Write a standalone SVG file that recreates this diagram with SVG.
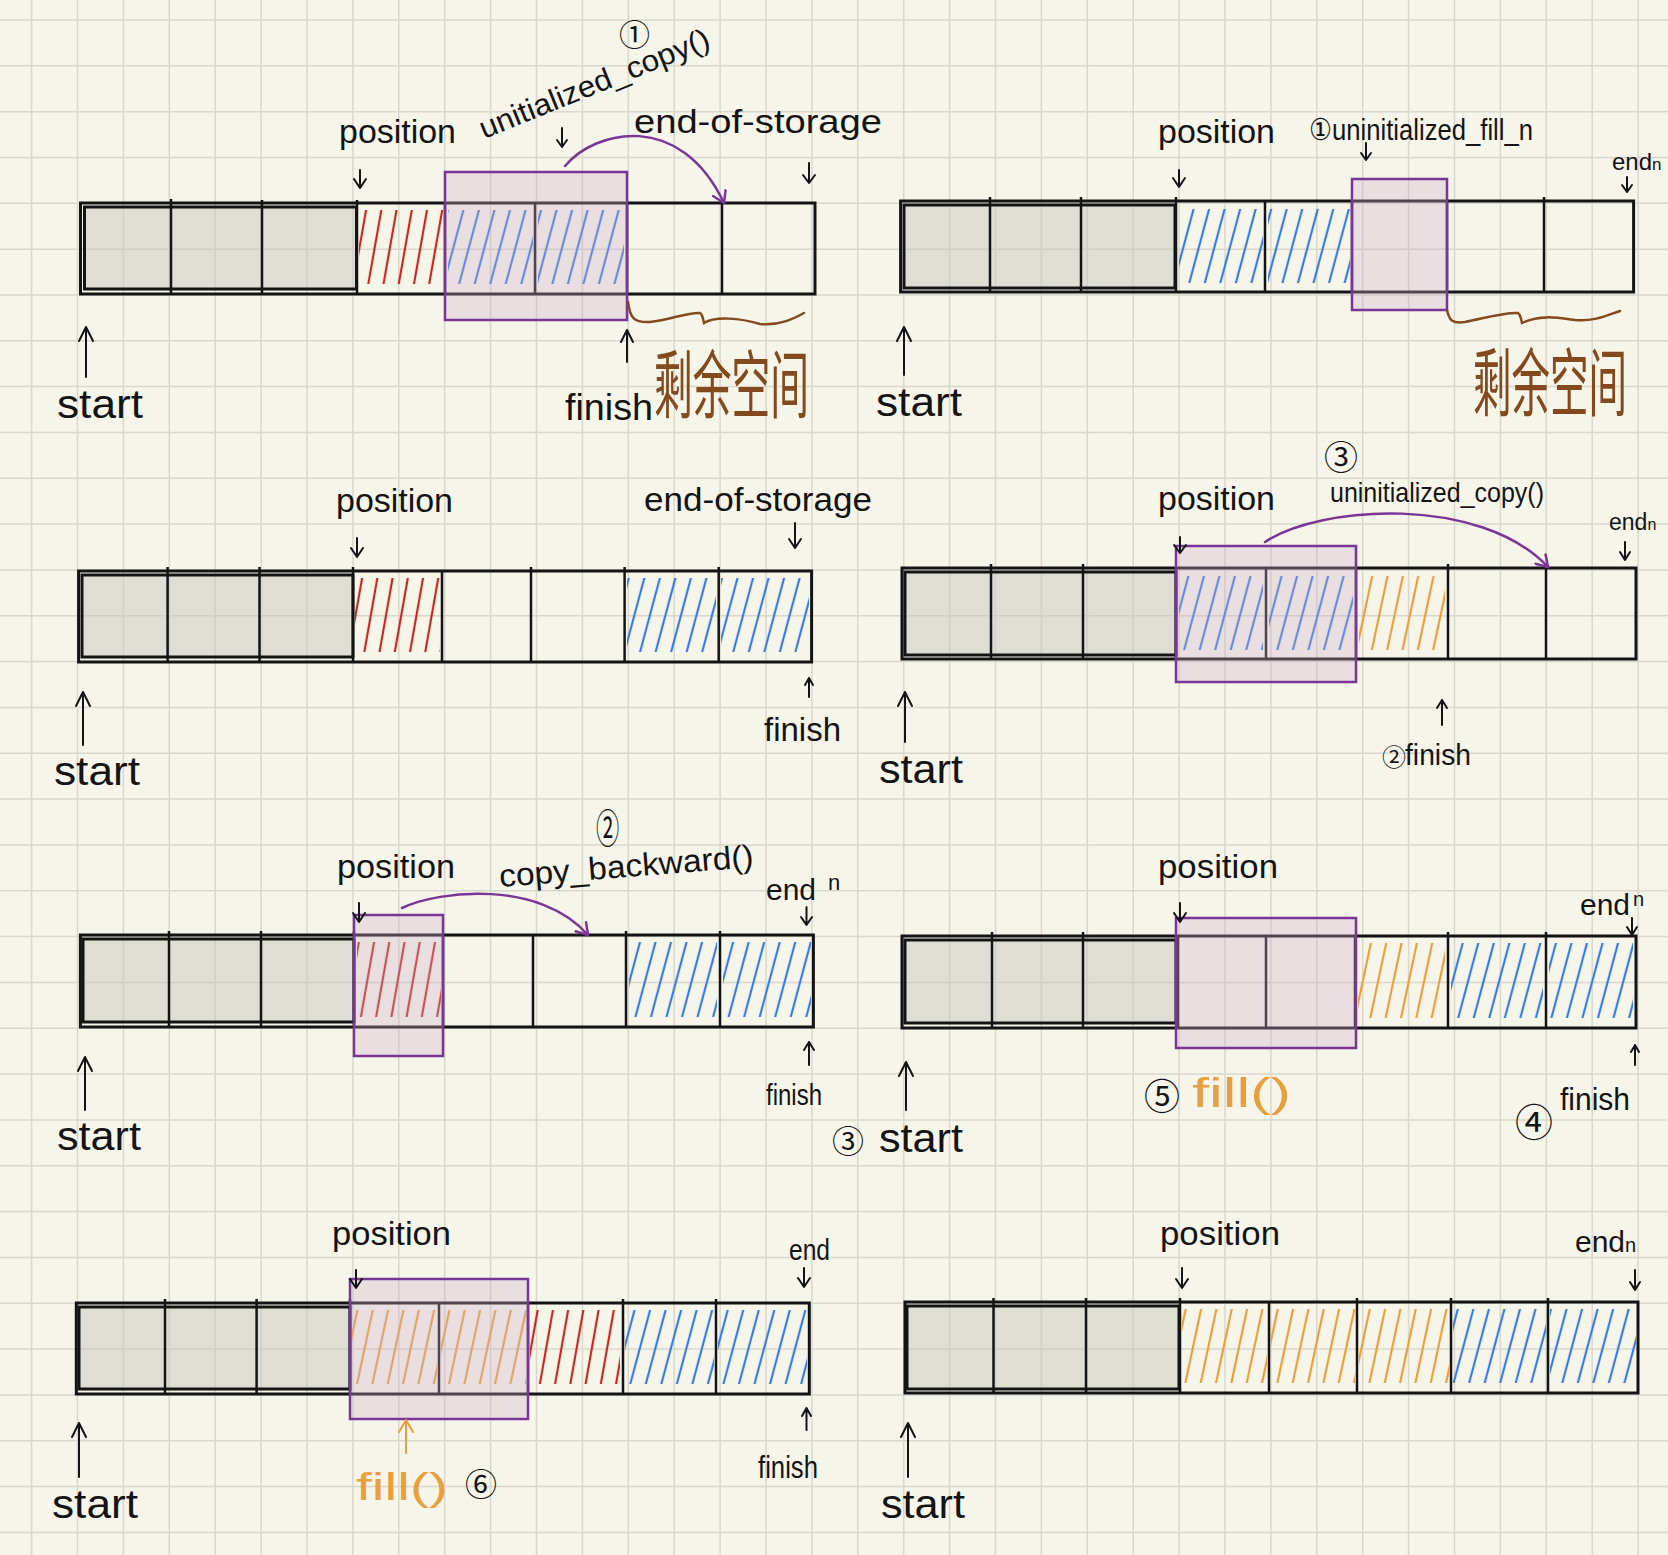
<svg xmlns="http://www.w3.org/2000/svg" width="1668" height="1555" viewBox="0 0 1668 1555">
<style>
.t{font-family:"Liberation Sans",Arial,sans-serif;fill:#141414}
.o{font-family:"Liberation Sans",Arial,sans-serif;fill:#e8a03e}
.c{font-family:"Noto Sans CJK SC",sans-serif;fill:#141414}
.cn{font-family:"Noto Sans CJK SC",sans-serif;fill:#84491c}
.arr{stroke:#141414;stroke-width:2;fill:none;stroke-linecap:round;stroke-linejoin:round}
.oarr{stroke:#e8a03e;stroke-width:2;fill:none;stroke-linecap:round;stroke-linejoin:round}
.bar{fill:none;stroke:#141414;stroke-width:3}
.grey{fill:#c8c8c0;fill-opacity:.5;stroke:#141414;stroke-width:3}
.div{stroke:#141414;stroke-width:2.5}
.pbox{fill:#cdaecb;fill-opacity:.32;stroke:#7a3596;stroke-width:2.5}
.brace{fill:none;stroke:#84491c;stroke-width:2.5;stroke-linecap:round}
.conn{fill:none;stroke:#7a3596;stroke-width:2.5;stroke-linecap:round}
</style>
<defs>
<pattern id="hr" patternUnits="userSpaceOnUse" width="15" height="300" patternTransform="rotate(10)"><line x1="7" y1="0" x2="7" y2="300" stroke="#c42a20" stroke-width="2.2"/></pattern>
<pattern id="hb" patternUnits="userSpaceOnUse" width="15" height="300" patternTransform="rotate(15)"><line x1="7" y1="0" x2="7" y2="300" stroke="#3a7de2" stroke-width="2.2"/></pattern>
<pattern id="ho" patternUnits="userSpaceOnUse" width="15" height="300" patternTransform="rotate(12)"><line x1="7" y1="0" x2="7" y2="300" stroke="#e8a03e" stroke-width="2.2"/></pattern>
<marker id="ah" viewBox="-12 -8 14 16" markerWidth="14" markerHeight="16" refX="0" refY="0" orient="auto" markerUnits="userSpaceOnUse"><path d="M-11,-7 L0,0 L-11,7" fill="none" stroke="#7a3596" stroke-width="2.5" stroke-linecap="round" stroke-linejoin="round"/></marker>
</defs>
<rect width="1668" height="1555" fill="#f6f5ea"/>
<path id="grid" fill="none" stroke="#d9d8cc" stroke-width="1.5" d="M31.6 0V1555M77.5 0V1555M123.4 0V1555M169.3 0V1555M215.2 0V1555M261.1 0V1555M307 0V1555M352.9 0V1555M398.8 0V1555M444.7 0V1555M490.6 0V1555M536.5 0V1555M582.4 0V1555M628.3 0V1555M674.2 0V1555M720.1 0V1555M766 0V1555M811.9 0V1555M857.8 0V1555M903.7 0V1555M949.6 0V1555M995.5 0V1555M1041.4 0V1555M1087.3 0V1555M1133.2 0V1555M1179.1 0V1555M1225 0V1555M1270.9 0V1555M1316.8 0V1555M1362.7 0V1555M1408.6 0V1555M1454.5 0V1555M1500.4 0V1555M1546.3 0V1555M1592.2 0V1555M1638.1 0V1555M0 20H1668M0 65.8H1668M0 111.7H1668M0 157.5H1668M0 203.3H1668M0 249.2H1668M0 295H1668M0 340.8H1668M0 386.6H1668M0 432.5H1668M0 478.3H1668M0 524.1H1668M0 570H1668M0 615.8H1668M0 661.6H1668M0 707.5H1668M0 753.3H1668M0 799.1H1668M0 845H1668M0 890.8H1668M0 936.6H1668M0 982.4H1668M0 1028.3H1668M0 1074.1H1668M0 1120H1668M0 1165.8H1668M0 1211.6H1668M0 1257.4H1668M0 1303.2H1668M0 1349.1H1668M0 1394.9H1668M0 1440.7H1668M0 1486.6H1668M0 1532.4H1668"/>

<!-- Panel 1 -->
<g id="panel1">
<rect class="grey" x="84.5" y="207" width="272" height="82"/>
<rect x="359" y="210" width="84" height="74" fill="url(#hr)"/>
<rect x="448" y="210" width="85" height="74" fill="url(#hb)"/>
<rect x="538" y="210" width="86" height="74" fill="url(#hb)"/>
<rect class="bar" x="80.5" y="203" width="734.5" height="91"/>
<path class="div" d="M171 199V294M262 200V294M357 200V294M445 203V294M535 203V294M627 203V294M722 203V294"/>
<rect class="pbox" x="445" y="172" width="182" height="148"/>
<text class="t" x="339" y="143" font-size="33" textLength="117" lengthAdjust="spacingAndGlyphs">position</text>
<path class="arr" d="M360 170V188M354 179L360 188L366 179"/>
<text class="t" transform="translate(484,139) rotate(-22)" font-size="30" textLength="246" lengthAdjust="spacingAndGlyphs">unitialized_copy()</text>
<text class="c" x="619" y="46" font-size="31">①</text>
<path class="arr" d="M562 128V147M557 140L562 147L567 140"/>
<text class="t" x="634" y="133" font-size="34" textLength="248" lengthAdjust="spacingAndGlyphs">end-of-storage</text>
<path class="arr" d="M809 163V183M803 175L809 183L815 175"/>
<path class="arr" d="M86 377V327M79 341L86 327L93 341"/>
<text class="t" x="57" y="418" font-size="40" textLength="86" lengthAdjust="spacingAndGlyphs">start</text>
<path class="arr" d="M627 362V330M621 342L627 330L633 342"/>
<text class="t" x="565" y="420" font-size="36" textLength="88" lengthAdjust="spacingAndGlyphs">finish</text>
<path class="brace" d="M628 302C630 318 634 323 650 322C670 320 688 312 700 313C703 315 703 320 704 323C715 316 740 318 760 324C780 326 795 318 804 313"/>
<text class="cn" transform="translate(654,412) scale(1,1.9)" font-size="39" textLength="155" lengthAdjust="spacingAndGlyphs">剩余空间</text>
</g>

<!-- Panel 2 -->
<g id="panel2">
<rect class="grey" x="904" y="205" width="271" height="83"/>
<rect x="1179" y="209" width="84" height="74" fill="url(#hb)"/>
<rect x="1268" y="209" width="82" height="74" fill="url(#hb)"/>
<rect class="bar" x="900.6" y="201" width="733" height="91"/>
<path class="div" d="M990 197V292M1081 197V292M1176 197V292M1265 201V292M1352 201V292M1447 201V292M1544 197V292"/>
<rect class="pbox" x="1352" y="179" width="95" height="131"/>
<text class="t" x="1158" y="143" font-size="33" textLength="117" lengthAdjust="spacingAndGlyphs">position</text>
<path class="arr" d="M1179 170V187M1173 178L1179 187L1185 178"/>
<text class="t" x="1309" y="140" font-size="30" textLength="224" lengthAdjust="spacingAndGlyphs">①uninitialized_fill_n</text>
<path class="arr" d="M1366 143V160M1361 153L1366 160L1371 153"/>
<text class="t" x="1612" y="170" font-size="24">end<tspan font-size="17">n</tspan></text>
<path class="arr" d="M1627 177V192M1622 185L1627 192L1632 185"/>
<path class="brace" d="M1447 310C1449 320 1452 324 1465 322C1485 318 1505 312 1518 313C1521 315 1521 320 1522 323C1540 314 1560 318 1575 320C1595 322 1610 314 1620 311"/>
<text class="cn" transform="translate(1473,410) scale(1,1.9)" font-size="39" textLength="154" lengthAdjust="spacingAndGlyphs">剩余空间</text>
<path class="arr" d="M904 375V327M897 341L904 327L911 341"/>
<text class="t" x="876" y="416" font-size="40" textLength="86" lengthAdjust="spacingAndGlyphs">start</text>
</g>

<!-- Panel 3 -->
<g id="panel3">
<rect class="grey" x="82" y="575" width="271" height="82"/>
<rect x="355" y="578" width="85" height="74" fill="url(#hr)"/>
<rect x="627" y="578" width="89" height="74" fill="url(#hb)"/>
<rect x="721" y="578" width="88" height="74" fill="url(#hb)"/>
<rect class="bar" x="78.6" y="571" width="733" height="91"/>
<path class="div" d="M167.6 567V662M259.5 567V662M353 567V662M442 571V662M531 567V662M624.6 567V662M718.7 567V662"/>
<text class="t" x="336" y="512" font-size="33" textLength="117" lengthAdjust="spacingAndGlyphs">position</text>
<path class="arr" d="M357 538V557M351 548L357 557L363 548"/>
<text class="t" x="644" y="511" font-size="34" textLength="228" lengthAdjust="spacingAndGlyphs">end-of-storage</text>
<path class="arr" d="M795 523V548M789 539L795 548L801 539"/>
<path class="arr" d="M809 697V678M805 685L809 678L813 685"/>
<text class="t" x="764" y="741" font-size="34" textLength="77" lengthAdjust="spacingAndGlyphs">finish</text>
<path class="arr" d="M83 745V692M76 706L83 692L90 706"/>
<text class="t" x="54" y="785" font-size="40" textLength="86" lengthAdjust="spacingAndGlyphs">start</text>
</g>

<!-- Panel 4 -->
<g id="panel4">
<rect class="grey" x="905" y="572" width="271" height="83"/>
<rect x="1179" y="576" width="84" height="74" fill="url(#hb)"/>
<rect x="1269" y="576" width="84" height="74" fill="url(#hb)"/>
<rect x="1359" y="576" width="86" height="74" fill="url(#ho)"/>
<rect class="bar" x="902" y="568" width="734" height="91"/>
<path class="div" d="M991 564V659M1083 564V659M1176 568V659M1266 568V659M1356 568V659M1448 564V659M1546 568V659"/>
<rect class="pbox" x="1176" y="546" width="180" height="136"/>
<text class="c" x="1324" y="470" font-size="34">③</text>
<text class="t" x="1330" y="502" font-size="28" textLength="214" lengthAdjust="spacingAndGlyphs">uninitialized_copy()</text>
<text class="t" x="1158" y="510" font-size="33" textLength="117" lengthAdjust="spacingAndGlyphs">position</text>
<path class="arr" d="M1180 537V553M1174 545L1180 553L1186 545"/>
<text class="t" x="1609" y="530" font-size="23">end<tspan font-size="16">n</tspan></text>
<path class="arr" d="M1625 542V560M1620 552L1625 560L1630 552"/>
<path class="arr" d="M1442 725V700M1437 708L1442 700L1447 708"/>
<text class="c" x="1382" y="766" font-size="24">②</text>
<text class="t" x="1405" y="765" font-size="30" textLength="66" lengthAdjust="spacingAndGlyphs">finish</text>
<path class="arr" d="M905 742V692M898 706L905 692L912 706"/>
<text class="t" x="879" y="783" font-size="40" textLength="84" lengthAdjust="spacingAndGlyphs">start</text>
</g>

<!-- Panel 5 -->
<g id="panel5">
<rect class="grey" x="83" y="939" width="271" height="83"/>
<rect x="357" y="942" width="84" height="75" fill="url(#hr)"/>
<rect x="629" y="942" width="88" height="75" fill="url(#hb)"/>
<rect x="723" y="942" width="88" height="75" fill="url(#hb)"/>
<rect class="bar" x="80.4" y="935" width="733" height="92"/>
<path class="div" d="M169 931V1027M261 931V1027M354 931V1027M443 935V1027M533 935V1027M626 931V1027M720 931V1027"/>
<rect class="pbox" x="354" y="915" width="89" height="141"/>
<text class="c" transform="translate(596,843) scale(0.75,1.3)" font-size="31">②</text>
<text class="t" transform="translate(500,887) rotate(-4.5)" font-size="32" textLength="255" lengthAdjust="spacingAndGlyphs">copy_backward()</text>
<text class="t" x="337" y="878" font-size="33" textLength="118" lengthAdjust="spacingAndGlyphs">position</text>
<path class="arr" d="M359 903V922M353 913L359 922L365 913"/>
<text class="t" x="766" y="900" font-size="30">end<tspan dx="12" dy="-10" font-size="22">n</tspan></text>
<path class="arr" d="M806.5 907V925M801 917L806.5 925L812 917"/>
<path class="arr" d="M809 1065V1042M804 1050L809 1042L814 1050"/>
<text class="t" x="766" y="1105" font-size="30" textLength="56" lengthAdjust="spacingAndGlyphs">finish</text>
<path class="arr" d="M85 1110V1057M78 1071L85 1057L92 1071"/>
<text class="t" x="57" y="1150" font-size="40" textLength="84" lengthAdjust="spacingAndGlyphs">start</text>
<text class="c" x="832" y="1153" font-size="32">③</text>
</g>

<!-- Panel 6 -->
<g id="panel6">
<rect class="grey" x="905" y="940" width="271" height="83"/>
<rect x="1358" y="943" width="87" height="75" fill="url(#ho)"/>
<rect x="1451" y="943" width="92" height="75" fill="url(#hb)"/>
<rect x="1549" y="943" width="84" height="75" fill="url(#hb)"/>
<rect class="bar" x="902" y="936" width="734" height="92"/>
<path class="div" d="M992 932V1028M1083 932V1028M1178 936V1028M1266 936V1028M1355 936V1028M1448 932V1028M1546 932V1028"/>
<rect class="pbox" x="1176" y="918" width="180" height="130"/>
<text class="t" x="1158" y="878" font-size="33" textLength="120" lengthAdjust="spacingAndGlyphs">position</text>
<path class="arr" d="M1180 903V922M1174 913L1180 922L1186 913"/>
<text class="t" x="1580" y="915" font-size="30">end<tspan dx="3" dy="-9" font-size="20">n</tspan></text>
<path class="arr" d="M1632 918V935M1627 927L1632 935L1637 927"/>
<text class="c" x="1144" y="1110" font-size="36">⑤</text>
<text class="o" x="1192" y="1107" font-size="40" textLength="99" lengthAdjust="spacingAndGlyphs">fill()</text>
<path class="arr" d="M1635 1065V1045M1631 1052L1635 1045L1639 1052"/>
<text class="c" x="1515" y="1136" font-size="38">④</text>
<text class="t" x="1560" y="1110" font-size="32" textLength="70" lengthAdjust="spacingAndGlyphs">finish</text>
<path class="arr" d="M906 1110V1062M899 1076L906 1062L913 1076"/>
<text class="t" x="879" y="1152" font-size="40" textLength="84" lengthAdjust="spacingAndGlyphs">start</text>
</g>

<!-- Panel 7 -->
<g id="panel7">
<rect class="grey" x="79" y="1307" width="271" height="82"/>
<rect x="352" y="1310" width="85" height="74" fill="url(#ho)"/>
<rect x="441" y="1310" width="85" height="74" fill="url(#ho)"/>
<rect x="530" y="1310" width="90" height="74" fill="url(#hr)"/>
<rect x="625" y="1310" width="89" height="74" fill="url(#hb)"/>
<rect x="718" y="1310" width="89" height="74" fill="url(#hb)"/>
<rect class="bar" x="76.3" y="1303" width="733" height="91"/>
<path class="div" d="M165 1299V1394M256.6 1299V1394M350 1299V1394M439 1303V1394M528 1303V1394M623 1299V1394M716 1299V1394"/>
<rect class="pbox" x="350" y="1279" width="178" height="140"/>
<text class="t" x="332" y="1245" font-size="33" textLength="119" lengthAdjust="spacingAndGlyphs">position</text>
<path class="arr" d="M356 1270V1288M350 1279L356 1288L362 1279"/>
<text class="t" x="789" y="1260" font-size="30" textLength="41" lengthAdjust="spacingAndGlyphs">end</text>
<path class="arr" d="M804 1268V1287M798 1278L804 1287L810 1278"/>
<path class="arr" d="M806.5 1430V1408M802 1416L806.5 1408L811 1416"/>
<text class="t" x="758" y="1478" font-size="32" textLength="60" lengthAdjust="spacingAndGlyphs">finish</text>
<path class="oarr" d="M406 1453V1420M399 1432L406 1420L413 1432"/>
<text class="o" x="356" y="1500" font-size="38" textLength="92" lengthAdjust="spacingAndGlyphs">fill()</text>
<text class="c" x="465" y="1496" font-size="32">⑥</text>
<path class="arr" d="M79 1477V1423M72 1437L79 1423L86 1437"/>
<text class="t" x="52" y="1518" font-size="40" textLength="86" lengthAdjust="spacingAndGlyphs">start</text>
</g>

<!-- Panel 8 -->
<g id="panel8">
<rect class="grey" x="907" y="1306" width="272" height="83"/>
<rect x="1182" y="1309" width="85" height="74" fill="url(#ho)"/>
<rect x="1271" y="1309" width="84" height="74" fill="url(#ho)"/>
<rect x="1359" y="1309" width="90" height="74" fill="url(#ho)"/>
<rect x="1453" y="1309" width="93" height="74" fill="url(#hb)"/>
<rect x="1550" y="1309" width="86" height="74" fill="url(#hb)"/>
<rect class="bar" x="905" y="1302" width="733" height="91"/>
<path class="div" d="M993.5 1298V1393M1086 1298V1393M1180 1298V1393M1269 1302V1393M1357 1298V1393M1451 1298V1393M1548 1298V1393"/>
<text class="t" x="1160" y="1245" font-size="33" textLength="120" lengthAdjust="spacingAndGlyphs">position</text>
<path class="arr" d="M1182 1268V1288M1176 1279L1182 1288L1188 1279"/>
<text class="t" x="1575" y="1252" font-size="30">end<tspan font-size="20">n</tspan></text>
<path class="arr" d="M1635 1270V1290M1630 1282L1635 1290L1640 1282"/>
<path class="arr" d="M908 1477V1423M901 1437L908 1423L915 1437"/>
<text class="t" x="881" y="1518" font-size="40" textLength="84" lengthAdjust="spacingAndGlyphs">start</text>
</g>

<!-- Connectors -->
<g id="connectors">
<path class="conn" marker-end="url(#ah)" d="M565 166C595 130 680 110 724 203"/>
<path class="conn" marker-end="url(#ah)" d="M1265 542C1320 505 1480 495 1548 567"/>
<path class="conn" marker-end="url(#ah)" d="M402 908C440 890 540 880 588 935"/>
</g>
</svg>
